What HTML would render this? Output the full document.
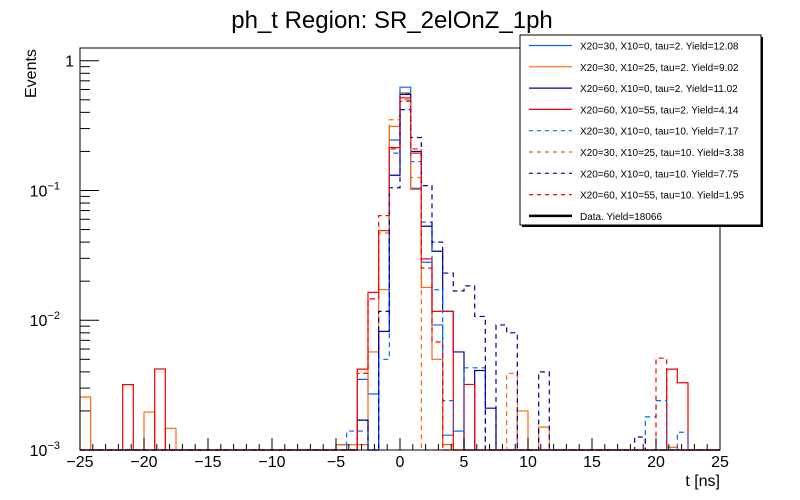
<!DOCTYPE html>
<html><head><meta charset="utf-8">
<style>
html,body{margin:0;padding:0;background:#fff;}
svg{display:block;font-family:"Liberation Sans",Arial,sans-serif;}
</style></head>
<body>
<svg id="chart" width="800" height="500" viewBox="0 0 800 500" xmlns="http://www.w3.org/2000/svg">
  <rect x="0" y="0" width="800" height="500" fill="#fff"/>
  <text x="392" y="28" font-size="24" text-anchor="middle" fill="#000">ph_t Region: SR_2elOnZ_1ph</text>
  <text transform="translate(36,98) rotate(-90)" font-size="16" fill="#000">Events</text>
  <text x="720" y="486" font-size="16" text-anchor="end" fill="#000">t [ns]</text>
  <g id="series"></g>
  <rect x="80" y="48" width="640" height="402" fill="none" stroke="#000" stroke-width="1"/>
  <g id="axes"></g>
  <g id="legend"></g>
</svg>
<script>
const nBins = 60;
const xMin = -25, xMax = 25;
const xTicks = [-25,-20,-15,-10,-5,0,5,10,15,20,25];
const yTickExp = [0,-1,-2,-3];
const seriesNames = [
  "X20=30, X10=0, tau=2. Yield=12.08",
  "X20=30, X10=25, tau=2. Yield=9.02",
  "X20=60, X10=0, tau=2. Yield=11.02",
  "X20=60, X10=55, tau=2. Yield=4.14",
  "X20=30, X10=0, tau=10. Yield=7.17",
  "X20=30, X10=25, tau=10. Yield=3.38",
  "X20=60, X10=0, tau=10. Yield=7.75",
  "X20=60, X10=55, tau=10. Yield=1.95"
];
const dataLabel = "Data. Yield=18066";
const seriesColors = ["#0066ff","#ff6600","#000099","#ff0000","#0066ff","#ff6600","#000099","#ff0000"];
const seriesDashed = [false,false,false,false,true,true,true,true];

function emptyBins(){ return new Array(60).fill(0); }
const s1Bins = {24:0.0011,26:0.0035,27:0.0027,28:0.0082,29:0.245,30:0.625,31:0.104,32:0.028,33:0.0092,34:0.0013,35:0.0014};
const s2Bins = {0:0.00256,6:0.00196,8:0.00147,24:0.0011,25:0.0011,26:0.0011,27:0.0057,28:0.0172,29:0.312,30:0.565,31:0.102,32:0.0179,33:0.005,34:0.0011,41:0.002,43:0.0015,55:0.00105};
const s3Bins = {26:0.0017,28:0.0082,29:0.131,30:0.55,31:0.2,32:0.053,33:0.034,34:0.0117,35:0.0057,37:0.0041,38:0.0021};
const s4Bins = {4:0.00319,7:0.00421,26:0.0042,27:0.0164,28:0.049,29:0.214,30:0.517,31:0.194,32:0.0297,33:0.0117,34:0.0117,36:0.0032,55:0.0042,56:0.0033};
const s5Bins = {25:0.0014,26:0.0014,28:0.005,29:0.194,30:0.56,31:0.167,32:0.057,33:0.0172,34:0.0024,35:0.0014,36:0.0043,37:0.0043,53:0.0018,54:0.0024,56:0.00137};
const s6Bins = {26:0.0039,27:0.0146,28:0.047,29:0.351,30:0.5,31:0.126,40:0.0039};
const s7Bins = {26:0.0017,28:0.0117,29:0.105,30:0.42,31:0.256,32:0.109,33:0.040,34:0.0231,35:0.0168,36:0.0184,37:0.0107,39:0.0092,40:0.008,43:0.004,52:0.00126};
const s8Bins = {26:0.0039,27:0.0146,28:0.064,29:0.209,30:0.487,31:0.209,32:0.0252,33:0.0068,54:0.0051};
const allBins = [s1Bins,s2Bins,s3Bins,s4Bins,s5Bins,s6Bins,s7Bins,s8Bins];

const NS="http://www.w3.org/2000/svg";
const plotL=80, plotR=720, plotT=48, plotB=450;
const logMin=-3, logMax=0.098;
function xScale(t){ return plotL + (t-xMin)/(xMax-xMin)*(plotR-plotL); }
function yScale(v){
  let l = v>0 ? Math.log10(v) : logMin;
  if(l<logMin) l=logMin;
  return plotB - (l-logMin)/(logMax-logMin)*(plotB-plotT);
}
function mk(tag, attrs, parent){
  const e=document.createElementNS(NS,tag);
  for(const k in attrs) e.setAttribute(k,attrs[k]);
  parent.appendChild(e); return e;
}
const gS=document.getElementById('series');
const bw=(xMax-xMin)/nBins;
allBins.forEach((sp,i)=>{
  const vals=emptyBins();
  for(const k in sp) vals[+k]=sp[k];
  let d="M"+xScale(xMin)+","+yScale(0);
  for(let b=0;b<nBins;b++){
    const y=yScale(vals[b]);
    d+=" L"+xScale(xMin+b*bw).toFixed(2)+","+y.toFixed(2)+" L"+xScale(xMin+(b+1)*bw).toFixed(2)+","+y.toFixed(2);
  }
  d+=" L"+xScale(xMax)+","+yScale(0);
  const p=mk('path',{d:d,fill:'none',stroke:seriesColors[i],'stroke-width':1.2,'stroke-dasharray':seriesDashed[i]?'5,4':'none'},gS);
  
  
});

const gA=document.getElementById('axes');
for(let t=xMin;t<=xMax;t+=1){
  const major = xTicks.includes(t);
  const x=xScale(t);
  const ln=mk('line',{x1:x,x2:x,y1:plotB,y2:plotB-(major?12:6),stroke:'#000','stroke-width':1},gA);
  
  
}
xTicks.forEach(t=>{
  const tx=mk('text',{x:xScale(t),y:plotB+17,'font-size':16,'text-anchor':'middle',fill:'#000'},gA);
  tx.textContent=(t<0?"\u2212"+Math.abs(t):String(t));
  
  
});
for(let e=-3;e<=0;e++){
  const y=yScale(Math.pow(10,e));
  const ln=mk('line',{x1:plotL,x2:plotL+19,y1:y,y2:y,stroke:'#000','stroke-width':1},gA);
  
  
  for(let m=2;m<=9;m++){
    const v=m*Math.pow(10,e);
    if(Math.log10(v)>logMax) continue;
    const ym=yScale(v);
    const lm=mk('line',{x1:plotL,x2:plotL+10,y1:ym,y2:ym,stroke:'#000','stroke-width':1},gA);
    
    
  }
}
yTickExp.forEach(e=>{
  const y=yScale(Math.pow(10,e));
  const tx=mk('text',{x:plotL-6,y:y+6,'font-size':16,'text-anchor':'end',fill:'#000'},gA);
  if(e===0){ tx.textContent="1"; }
  else {
    tx.textContent="10";
    const sp=mk('tspan',{dy:-7,'font-size':11},tx);
    sp.textContent="\u2212"+Math.abs(e);
    tx.setAttribute('x',plotL-20);
  }
  
  
});

const gL=document.getElementById('legend');
const sh=mk('rect',{x:522,y:37,width:241,height:190,fill:'#000'},gL);


const bx=mk('rect',{x:520,y:35,width:241,height:190,fill:'#fff',stroke:'#000','stroke-width':1},gL);


const labels=seriesNames.concat([dataLabel]);
labels.forEach((lab,i)=>{
  const y=45.5+i*21.3;
  const g=mk('g',{},gL);
  
  
  const isData=i===8;
  mk('line',{x1:529,x2:572,y1:y,y2:y,stroke:isData?'#000':seriesColors[i],'stroke-width':isData?2.5:1.2,'stroke-dasharray':(!isData&&seriesDashed[i])?'4,4':'none'},g);
  const t=mk('text',{x:580,y:y+4,'font-size':10,fill:'#000'},g);
  t.textContent=lab;
});
</script>
</body></html>
